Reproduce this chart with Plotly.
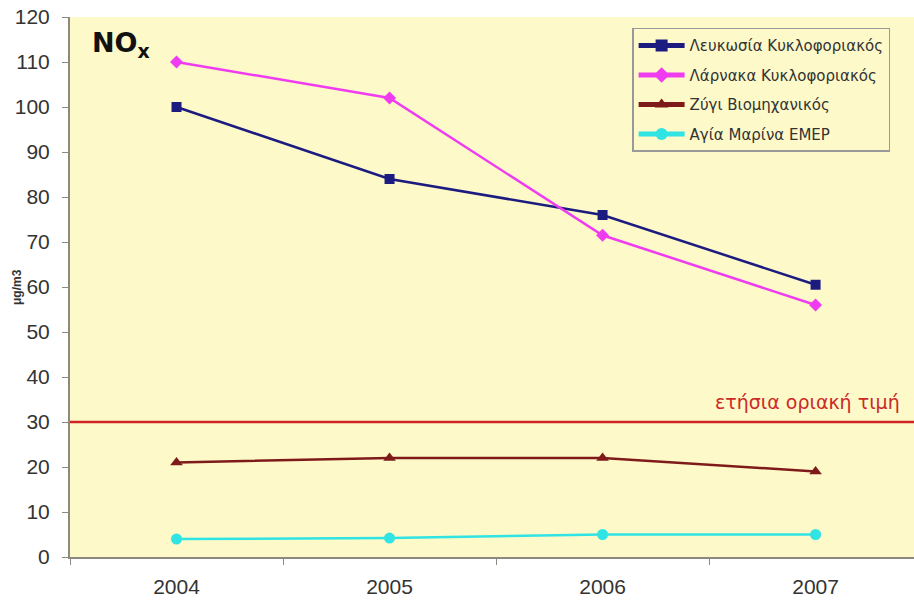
import plotly.graph_objects as go

years = ["2004", "2005", "2006", "2007"]
series_names = ["Λευκωσία Κυκλοφοριακός", "Λάρνακα Κυκλοφοριακός", "Ζύγι Βιομηχανικός", "Αγία Μαρίνα EMEP"]
lefkosia = [100, 84, 76, 60.5]
larnaka = [110, 102, 71.5, 56]
zygi = [21, 22, 22, 19]
agia_marina = [4, 4.2, 5, 5]
limit_value = 30
limit_label = "ετήσια οριακή τιμή"
y_ticks = [0, 10, 20, 30, 40, 50, 60, 70, 80, 90, 100, 110, 120]

series = [lefkosia, larnaka, zygi, agia_marina]
colors = ["#1c1c80", "#f03cf0", "#7f1a1a", "#30e4e4"]
symbols = ["square", "diamond", "triangle-up", "circle"]
sizes = [10, 10, 11, 11]

fig = go.Figure()
for i, (name, vals, c, s, sz) in enumerate(zip(series_names, series, colors, symbols, sizes)):
    fig.add_trace(go.Scatter(
        x=years, y=vals, name=name, mode="lines+markers",
        legendgroup=f"g{i}",
        line=dict(color=c, width=2.5),
        marker=dict(symbol=s, size=sz, color=c),
    ))

fig.add_shape(type="line", xref="paper", yref="y", x0=0, x1=1,
              y0=limit_value, y1=limit_value,
              line=dict(color="#d02424", width=2.5))
fig.add_annotation(xref="paper", yref="y", x=0.986, y=limit_value,
                   text=limit_label, showarrow=False, xanchor="right",
                   yanchor="bottom", yshift=7,
                   font=dict(family="DejaVu Sans", size=19, color="#cc2a2a"))
fig.add_annotation(xref="paper", yref="paper", x=0.024, y=0.985,
                   text="<b>NO<sub>x</sub></b>", showarrow=False,
                   xanchor="left", yanchor="top",
                   font=dict(family="DejaVu Sans", size=27, color="#111111"))
fig.add_annotation(xref="paper", yref="paper", x=(17 - 70) / 844, y=0.5,
                   text="<b>μg/m3</b>", showarrow=False, textangle=-90,
                   xanchor="center", yanchor="middle",
                   font=dict(family="Liberation Sans, Arial", size=12, color="#333333"))

fig.update_layout(
    width=914, height=600,
    margin=dict(l=70, r=0, t=17, b=43),
    paper_bgcolor="white",
    plot_bgcolor="#fdf9c8",
    font=dict(family="Liberation Sans, Arial", color="#333333"),
    showlegend=True,
    legend=dict(x=0.666, y=0.98, xanchor="left", yanchor="top",
                bgcolor="#fdf9c8", bordercolor="#999999", borderwidth=1.5,
                font=dict(family="DejaVu Sans", size=15, color="#333333"),
                itemsizing="constant", itemwidth=46, tracegroupgap=7),
    xaxis=dict(type="category", range=[-0.5, 3.462], tickson="boundaries",
               ticks="outside", ticklen=6, tickcolor="#8a8a80",
               showline=True, linecolor="#8a8a80", linewidth=2,
               showgrid=False, ticklabelstandoff=10,
               tickfont=dict(size=21, color="#333333")),
    yaxis=dict(range=[0, 120], tickvals=y_ticks, ticks="outside", ticklen=6,
               tickcolor="#8a8a80", showline=True, linecolor="#8a8a80",
               linewidth=2, showgrid=False, zeroline=False,
               ticklabelstandoff=8, automargin=False,
               tickfont=dict(size=21, color="#333333")),
)

fig.write_html(
    "out.html",
    config={"displayModeBar": False},
    post_script="document.body.style.margin='0';document.body.style.overflow='hidden';",
)
